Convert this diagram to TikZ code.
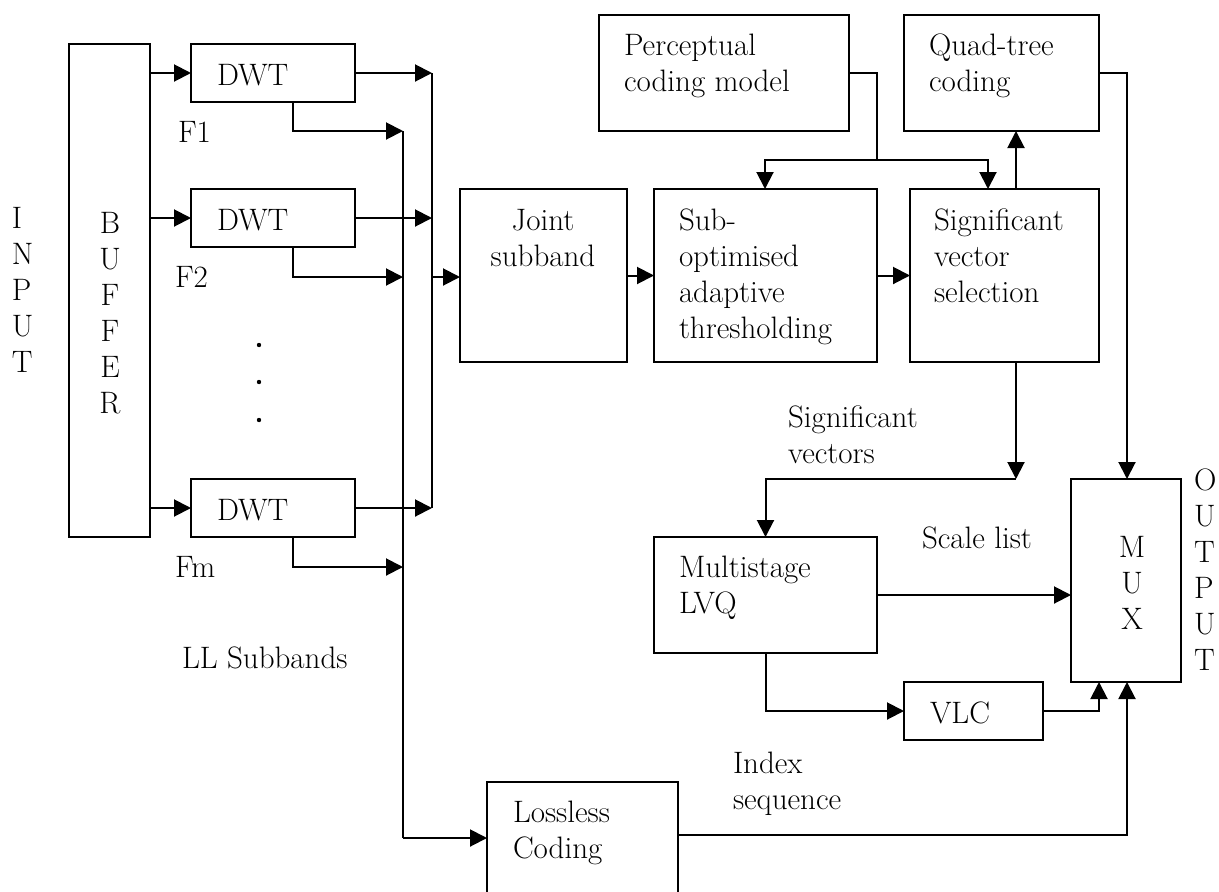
\documentclass[tikz,border=0pt]{standalone}
\usetikzlibrary{arrows.meta}
\begin{document}
\begin{tikzpicture}[x=1pt,y=-1pt,
  box/.style={draw, line width=2pt, inner sep=0pt, outer sep=0pt},
  lbl/.style={font=\fontsize{31}{36}\selectfont, inner sep=0pt, outer sep=0pt, anchor=north west, align=left},
  lblc/.style={lbl, anchor=north, align=center},
  lbb/.style={font=\fontsize{31}{36}\selectfont, inner sep=0pt, outer sep=0pt, anchor=base west},
  conn/.style={line width=2pt},
  arr/.style={conn, -{Triangle[length=17pt,width=17pt]}}]
\useasboundingbox (0,0) rectangle (1219,892);
\clip (0,0) rectangle (1219,892);
\fill[white] (0,0) rectangle (1219,892);

% boxes
\node[box, minimum width=81pt,  minimum height=493pt] (buf)   at (109.5,290.5) {};
\node[box, minimum width=164pt, minimum height=58pt]  (dwt1)  at (273,73) {};
\node[box, minimum width=164pt, minimum height=58pt]  (dwt2)  at (273,218) {};
\node[box, minimum width=164pt, minimum height=58pt]  (dwt3)  at (273,508) {};
\node[box, minimum width=250pt, minimum height=116pt] (perc)  at (724,73) {};
\node[box, minimum width=195pt, minimum height=116pt] (quad)  at (1001.5,73) {};
\node[box, minimum width=167pt, minimum height=173pt] (joint) at (543.5,275.5) {};
\node[box, minimum width=223pt, minimum height=173pt] (sub)   at (765.5,275.5) {};
\node[box, minimum width=189pt, minimum height=173pt] (sig)   at (1004.5,275.5) {};
\node[box, minimum width=223pt, minimum height=116pt] (multi) at (765.5,595) {};
\node[box, minimum width=139pt, minimum height=58pt]  (vlc)   at (973.5,711) {};
\node[box, minimum width=110pt, minimum height=203pt] (mux)   at (1126,580.5) {};
\node[box, minimum width=191pt, minimum height=148pt] (loss)  at (582.5,856) {};

% texts
\node[lbl] (tin) at (12,207) {I\\N\\P\\U\\T};
\node[lblc] (tbuf) at (110,212) {B\\U\\F\\F\\E\\R};
\node[lbb] (td1) at (217,85) {DWT};
\node[lbb] (td2) at (217,230) {DWT};
\node[lbb] (td3) at (217,520) {DWT};
\node[lbb] (tf1) at (178,142) {F1};
\node[lbb] (tf2) at (175,287) {F2};
\node[lbb] (tfm) at (175,577) {Fm};
\node[lbb] (tll) at (182,668) {LL Subbands};
\fill (259,345) circle (2.2pt) (259,382) circle (2.2pt) (259,420) circle (2.2pt);
\node[lbl] (tperc) at (624,34) {Perceptual\\coding model};
\node[lbl] (tquad) at (929,34) {Quad-tree\\coding};
\node[lblc] (tjoint) at (543,209) {Joint\\subband};
\node[lbl] (tsub) at (679,209) {Sub-\\optimised\\adaptive\\thresholding};
\node[lbl] (tsig) at (934,209) {Significant\\vector\\selection};
\node[lbl] (tsv) at (788,406) {Significant\\vectors};
\node[lbb] (tscale) at (922,548) {Scale list};
\node[lbl] (tmulti) at (679,556) {Multistage\\LVQ};
\node[lbb] (tvlc) at (930,723) {VLC};
\node[lbl] (tidx) at (733,752) {Index\\sequence};
\node[lbl] (tloss) at (513,801) {Lossless\\Coding};
\node[lblc] (tmux) at (1132,536) {M\\U\\X};
\node[lbl] (tout) at (1194,469) {O\\U\\T\\P\\U\\T};

% junction coordinates
\coordinate (busR) at (432,0);
\coordinate (busL) at (403,0);
\coordinate (tap) at (293,0);
\coordinate (b1) at (403,131);
\coordinate (b2) at (403,277);
\coordinate (b3) at (403,567);
\coordinate (bl) at (403,838);
\coordinate (pj) at (877,160);
\coordinate (pl) at (765,160);
\coordinate (pr) at (988,160);
\coordinate (sq) at (1016,0);
\coordinate (sv) at (1016,479);
\coordinate (vm) at (1099,0);
\coordinate (qm) at (1127,0);
\coordinate (lo) at (678,835);

% buffer to DWTs
\draw[arr] (buf.east |- dwt1.west) -- (dwt1.west);
\draw[arr] (buf.east |- dwt2.west) -- (dwt2.west);
\draw[arr] (buf.east |- dwt3.west) -- (dwt3.west);
% DWT outputs to right bus
\draw[arr] (dwt1.east) -- (dwt1.east -| busR);
\draw[arr] (dwt2.east) -- (dwt2.east -| busR);
\draw[arr] (dwt3.east) -- (dwt3.east -| busR);
\draw[conn] (dwt1.east -| busR) -- (dwt3.east -| busR);
\draw[arr] (busR |- b2) -- (joint.west |- b2);
% LL subbands to left bus
\draw[arr] (tap |- dwt1.south) |- (b1);
\draw[arr] (tap |- dwt2.south) |- (b2);
\draw[arr] (tap |- dwt3.south) |- (b3);
\draw[conn] (b1) -- (bl);
\draw[arr] (bl) -- (bl -| loss.west);
% main chain
\draw[arr] (joint.east) -- (sub.west);
\draw[arr] (sub.east) -- (sig.west);
\draw[arr] (perc.east) -| (pj) -| (pl |- sub.north);
\draw[arr] (pj) -| (pr |- sig.north);
\draw[arr] (sig.north -| sq) -- (quad.south -| sq);
\draw[arr] (quad.east) -| (qm |- mux.north);
\draw[arr] (sig.south -| sq) -- (sv);
\draw[arr] (sv) -| (multi.north);
\draw[arr] (multi.east) -- (mux.west |- multi.east);
\draw[arr] (multi.south) |- (vlc.west);
\draw[arr] (vlc.east) -| (vm |- mux.south);
\draw[arr] (lo) -| (qm |- mux.south);
\end{tikzpicture}
\end{document}
